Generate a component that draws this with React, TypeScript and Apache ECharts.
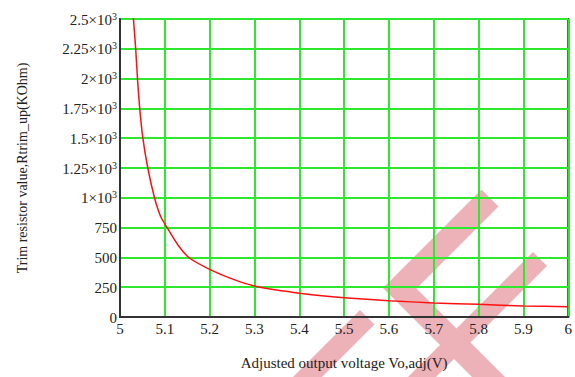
import React, { useEffect, useRef } from "react";
import * as echarts from "echarts";

const voltages = [5.029, 5.035, 5.039, 5.044, 5.051, 5.062, 5.077, 5.09, 5.105, 5.13, 5.155, 5.2, 5.25, 5.3, 5.35, 5.4, 5.45, 5.5, 5.6, 5.7, 5.8, 5.9, 6.0];
const resistances = [2550, 2250, 2000, 1750, 1500, 1250, 1000, 850, 750, 600, 495, 400, 320, 260, 226, 200, 178, 162, 137, 118, 106, 93, 86];

const xTitle = "Adjusted output voltage Vo,adj(V)";
const yTitle = "Trim resistor value,Rtrim_up(KOhm)";

const FONT = "'Liberation Serif', 'Times New Roman', serif";
const PINK = "#ecb2b7";

export default function App() {
  const ref = useRef<HTMLDivElement>(null);
  useEffect(() => {
    if (!ref.current) return;
    const chart = echarts.init(ref.current, undefined, { renderer: "svg" });
    const data = voltages.map((v, i) => [v, resistances[i]]);
    const poly = (pts: number[][]) => ({
      type: "polygon",
      z: -10,
      silent: true,
      shape: { points: pts },
      style: { fill: PINK },
    });
    chart.setOption({
      animation: false,
      backgroundColor: "#fff",
      textStyle: { fontFamily: FONT },
      grid: {
        left: 120,
        top: 19,
        right: 3,
        bottom: 60,
        show: true,
        borderColor: "#333",
        borderWidth: 2,
        backgroundColor: "transparent",
      },
      xAxis: {
        type: "value",
        min: 5,
        max: 6,
        interval: 0.1,
        name: xTitle,
        nameLocation: "middle",
        nameGap: 38,
        nameTextStyle: { fontFamily: FONT, fontSize: 15, color: "#222" },
        axisLine: { show: true, lineStyle: { color: "#333", width: 2 } },
        axisTick: { show: false },
        splitLine: { show: true, lineStyle: { color: "#2ee82e", width: 2 } },
        axisLabel: {
          fontFamily: FONT,
          fontSize: 15,
          color: "#222",
          margin: 4,
          formatter: (v: number) => String(Number(v.toFixed(1))),
        },
      },
      yAxis: {
        type: "value",
        min: 0,
        max: 2500,
        interval: 250,
        name: yTitle,
        nameLocation: "middle",
        nameRotate: 90,
        nameGap: 91,
        nameTextStyle: { fontFamily: FONT, fontSize: 14, color: "#222" },
        axisLine: { show: true, lineStyle: { color: "#333", width: 2 } },
        axisTick: { show: false },
        splitLine: { show: true, lineStyle: { color: "#2ee82e", width: 2 } },
        axisLabel: {
          fontFamily: FONT,
          fontSize: 15,
          color: "#222",
          margin: 3,
          formatter: (v: number) => {
            if (v >= 1000) {
              const m = Number((v / 1000).toFixed(2));
              return `{m|${m}×10}{s|3}`;
            }
            return `{m|${v}}`;
          },
          rich: {
            m: { fontFamily: FONT, fontSize: 15, color: "#222", verticalAlign: "bottom", lineHeight: 16 },
            s: { fontFamily: FONT, fontSize: 10, color: "#222", verticalAlign: "top", padding: [0, 0, 6, 0] },
          },
        },
      },
      graphic: [
        poly([[383, 288], [481.5, 189.5], [498.5, 206.5], [416.5, 288.5], [505, 377], [472, 377]]),
        poly([[533, 252], [547, 266], [436, 377], [408, 377]]),
        poly([[360, 310], [374.5, 324.5], [322, 377], [293, 377]]),
      ],
      series: [
        {
          type: "line",
          data,
          showSymbol: false,
          symbol: "none",
          clip: true,
          smooth: 0.25,
          lineStyle: { color: "#ff1010", width: 1.5 },
          z: 5,
        },
      ],
    });
    return () => chart.dispose();
  }, []);
  return (
    <div
      ref={ref}
      style={{ position: "absolute", left: 0, top: 0, width: 575, height: 377 }}
    />
  );
}
